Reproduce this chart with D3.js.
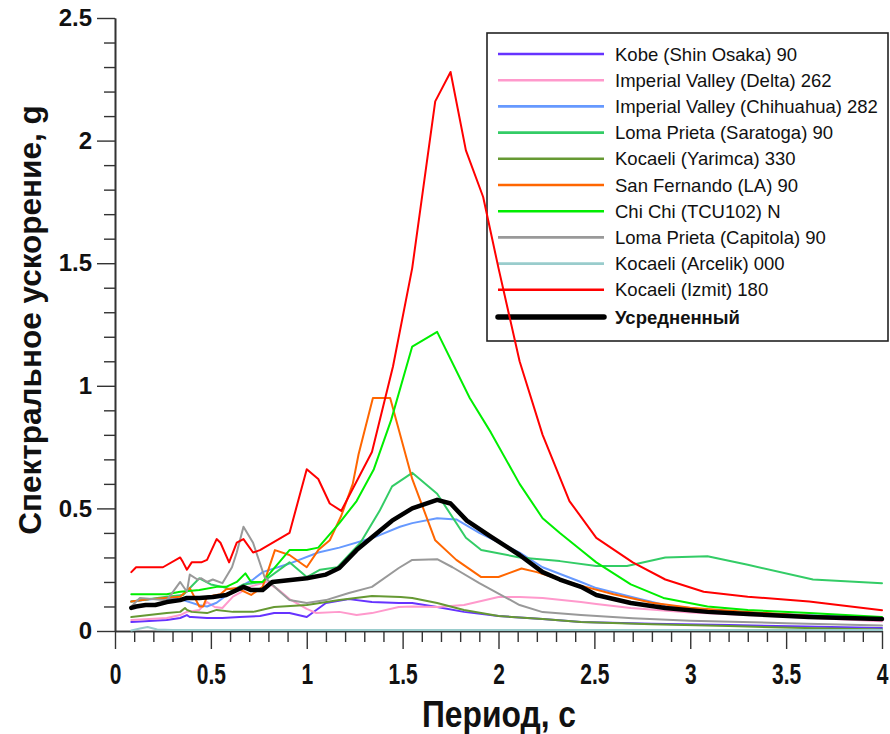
<!DOCTYPE html>
<html>
<head>
<meta charset="utf-8">
<script src="https://cdnjs.cloudflare.com/ajax/libs/d3/7.8.5/d3.min.js"></script>
<style>
  html, body { margin: 0; padding: 0; background: #fff; }
  svg { display: block; }
  text { font-family: "Liberation Sans", Arial, sans-serif; fill: #111; }
</style>
</head>
<body>
<svg id="chart" width="890" height="734"></svg>
<script>
// Response spectra: spectral acceleration (g) versus period (s)

const kobeT  = [0.085,0.27,0.34,0.375,0.39,0.40,0.48,0.56,0.65,0.756,0.83,0.91,1.0,1.10,1.22,1.34,1.48,1.55,1.68,1.82,2.0,2.23,2.43,2.8,3.2,3.6,4.0];
const kobeV  = [0.037,0.045,0.053,0.065,0.057,0.057,0.053,0.053,0.057,0.061,0.073,0.073,0.057,0.114,0.13,0.118,0.114,0.114,0.098,0.078,0.061,0.049,0.037,0.03,0.024,0.018,0.012];

const deltaT = [0.085,0.27,0.34,0.375,0.44,0.48,0.52,0.56,0.615,0.65,0.70,0.79,0.85,0.91,1.0,1.05,1.17,1.26,1.34,1.48,1.55,1.68,1.82,2.0,2.11,2.23,2.43,2.51,2.69,3.0,3.5,4.0];
const deltaV = [0.045,0.053,0.065,0.078,0.086,0.118,0.098,0.094,0.14,0.155,0.18,0.20,0.17,0.13,0.09,0.073,0.078,0.065,0.073,0.098,0.10,0.098,0.106,0.139,0.139,0.135,0.118,0.11,0.094,0.075,0.058,0.04];

const chihT  = [0.085,0.2,0.34,0.44,0.48,0.53,0.58,0.65,0.72,0.77,0.91,1.06,1.17,1.345,1.486,1.55,1.68,1.78,1.90,2.11,2.23,2.43,2.51,2.69,2.87,3.09,3.3,3.6,4.0];
const chihV  = [0.12,0.13,0.13,0.105,0.10,0.115,0.145,0.18,0.21,0.24,0.275,0.32,0.34,0.38,0.425,0.44,0.46,0.455,0.40,0.32,0.26,0.20,0.175,0.14,0.105,0.086,0.075,0.065,0.052];

const saratT = [0.085,0.27,0.355,0.44,0.50,0.56,0.615,0.67,0.77,0.91,1.0,1.07,1.16,1.28,1.38,1.445,1.55,1.68,1.83,1.91,2.11,2.32,2.51,2.67,2.87,3.09,3.30,3.64,4.0];
const saratV = [0.12,0.14,0.147,0.215,0.19,0.18,0.167,0.19,0.20,0.28,0.22,0.25,0.26,0.36,0.49,0.59,0.645,0.56,0.38,0.33,0.30,0.285,0.265,0.265,0.30,0.305,0.27,0.21,0.195];

const yarimT = [0.085,0.27,0.34,0.365,0.375,0.40,0.48,0.53,0.615,0.72,0.83,1.0,1.17,1.34,1.49,1.55,1.68,1.82,2.0,2.23,2.43,2.8,3.2,3.6,4.0];
const yarimV = [0.057,0.073,0.078,0.094,0.086,0.078,0.073,0.086,0.078,0.078,0.098,0.106,0.126,0.143,0.139,0.135,0.114,0.086,0.061,0.049,0.037,0.028,0.02,0.012,0.006];

const sfT    = [0.085,0.18,0.34,0.39,0.44,0.46,0.48,0.55,0.58,0.635,0.71,0.77,0.834,0.91,1.0,1.06,1.12,1.18,1.24,1.27,1.345,1.435,1.55,1.67,1.78,1.91,2.0,2.12,2.2,2.32,2.43,2.6,2.8,3.0,3.3,3.6,4.0];
const sfV    = [0.12,0.13,0.14,0.175,0.10,0.10,0.14,0.15,0.17,0.175,0.147,0.18,0.33,0.31,0.26,0.33,0.37,0.47,0.60,0.72,0.95,0.95,0.62,0.37,0.29,0.22,0.22,0.255,0.24,0.21,0.185,0.15,0.115,0.095,0.078,0.063,0.045];

const chichiT = [0.085,0.27,0.34,0.44,0.53,0.58,0.635,0.68,0.71,0.77,0.91,1.0,1.06,1.17,1.26,1.35,1.44,1.55,1.68,1.85,1.96,2.11,2.23,2.32,2.43,2.51,2.69,2.86,3.09,3.30,3.62,4.0];
const chichiV = [0.15,0.15,0.16,0.167,0.18,0.18,0.20,0.235,0.20,0.20,0.33,0.33,0.34,0.44,0.53,0.66,0.86,1.16,1.22,0.95,0.81,0.60,0.46,0.40,0.33,0.28,0.19,0.135,0.10,0.086,0.073,0.057];

const capitT = [0.085,0.13,0.27,0.34,0.375,0.39,0.43,0.45,0.48,0.51,0.56,0.61,0.635,0.67,0.72,0.78,0.85,0.91,1.0,1.10,1.22,1.34,1.48,1.55,1.68,1.76,1.90,2.11,2.23,2.43,2.7,3.0,3.5,4.0];
const capitV = [0.10,0.135,0.125,0.20,0.16,0.23,0.21,0.215,0.20,0.21,0.195,0.26,0.32,0.425,0.36,0.22,0.167,0.126,0.114,0.126,0.155,0.18,0.257,0.29,0.293,0.26,0.195,0.106,0.077,0.065,0.052,0.042,0.032,0.022];

const arcelT = [0.085,0.13,0.17,0.22,0.3,1.0,2.0,3.0,4.0];
const arcelV = [0.002,0.01,0.016,0.006,0.004,0.004,0.004,0.004,0.004];

const izmitT = [0.085,0.11,0.25,0.34,0.355,0.375,0.40,0.45,0.48,0.53,0.55,0.595,0.635,0.67,0.72,0.756,0.91,1.0,1.06,1.12,1.18,1.34,1.45,1.55,1.67,1.75,1.83,1.92,2.0,2.11,2.23,2.37,2.51,2.70,2.87,3.07,3.30,3.62,4.0];
const izmitV = [0.24,0.26,0.26,0.30,0.28,0.25,0.28,0.28,0.29,0.375,0.36,0.28,0.36,0.375,0.32,0.33,0.40,0.66,0.62,0.52,0.49,0.73,1.08,1.48,2.16,2.28,1.96,1.77,1.48,1.10,0.80,0.53,0.38,0.28,0.21,0.16,0.14,0.12,0.085];

const avgT   = [0.085,0.11,0.16,0.21,0.27,0.34,0.375,0.44,0.51,0.58,0.635,0.67,0.71,0.77,0.82,1.0,1.1,1.17,1.26,1.345,1.445,1.55,1.68,1.75,1.835,1.96,2.11,2.23,2.32,2.43,2.51,2.69,2.87,3.09,3.30,3.62,4.0];
const avgV   = [0.094,0.10,0.106,0.106,0.118,0.126,0.135,0.135,0.139,0.147,0.167,0.18,0.167,0.167,0.20,0.215,0.23,0.257,0.33,0.385,0.45,0.50,0.535,0.52,0.45,0.385,0.31,0.24,0.21,0.18,0.147,0.114,0.094,0.078,0.069,0.057,0.049];

const seriesNames  = ["Kobe (Shin Osaka) 90","Imperial Valley (Delta) 262","Imperial Valley (Chihuahua) 282","Loma Prieta (Saratoga) 90","Kocaeli (Yarimca) 330","San Fernando (LA) 90","Chi Chi (TCU102) N","Loma Prieta (Capitola) 90","Kocaeli (Arcelik) 000","Kocaeli (Izmit) 180","Усредненный"];
const seriesColors = ["#6633ff","#ff99cc","#6699ff","#33cc66","#669933","#ff6600","#00ee00","#999999","#99cccc","#ff0000","#000000"];
const seriesT = [kobeT, deltaT, chihT, saratT, yarimT, sfT, chichiT, capitT, arcelT, izmitT, avgT];
const seriesV = [kobeV, deltaV, chihV, saratV, yarimV, sfV, chichiV, capitV, arcelV, izmitV, avgV];

const xMajor = [0,0.5,1,1.5,2,2.5,3,3.5,4];
const xLabels = ["0","0.5","1","1.5","2","2.5","3","3.5","4"];
const yMajor = [0,0.5,1,1.5,2,2.5];
const yLabels = ["0","0.5","1","1.5","2","2.5"];
const xTitle = "Период, с";
const yTitle = "Спектральное ускорение, g";

const svg = d3.select("#chart");
const x = d3.scaleLinear().domain([0, 4]).range([115, 882]);
const y = d3.scaleLinear().domain([0, 2.5]).range([631, 18]);

const xMinor = d3.range(0, 41).map(i => i / 10).filter(v => Math.abs(v * 2 - Math.round(v * 2)) > 1e-6);
const yMinor = d3.range(0, 26).map(i => i / 10).filter(v => Math.abs(v * 2 - Math.round(v * 2)) > 1e-6);

// legend frame and entries (curves are drawn over it)
const lg = svg.append("g");
lg.append("rect").attr("x", 487).attr("y", 33).attr("width", 401).attr("height", 308)
  .attr("fill", "#fff").attr("stroke", "#222").attr("stroke-width", 1.6);
seriesNames.forEach((name, i) => {
  const isAvg = i === seriesNames.length - 1;
  const cy = 54 + i * 26.2 + (isAvg ? 1 : 0);
  lg.append("line").attr("x1", 498).attr("x2", 604).attr("y1", cy).attr("y2", cy)
    .attr("stroke", seriesColors[i]).attr("stroke-width", isAvg ? 5.5 : 2.6)
    .attr("stroke-linecap", isAvg ? "round" : "butt");
  lg.append("text").attr("x", 615).attr("y", cy).attr("dy", "0.36em")
    .attr("font-size", 18.5).attr("font-weight", isAvg ? "bold" : "normal").text(name);
});

// axes
const axisColor = "#333";
const gx = svg.append("g").attr("transform", "translate(0,631)");
gx.append("g").call(d3.axisBottom(x).tickValues(xMinor).tickSize(11).tickSizeOuter(0).tickFormat(""));
gx.append("g").call(d3.axisBottom(x).tickValues(xMajor).tickSize(18).tickSizeOuter(0).tickPadding(14)
  .tickFormat((d, i) => xLabels[i]));
gx.selectAll("path.domain").attr("stroke", axisColor).attr("stroke-width", 1.6);
gx.selectAll(".tick line").attr("stroke", axisColor).attr("stroke-width", 1.4);
gx.selectAll(".tick text").attr("font-size", 30).attr("font-weight", "bold")
  .attr("font-family", "'Liberation Sans', Arial, sans-serif").attr("fill", "#111")
  .attr("transform", "scale(0.7,1)");

const gy = svg.append("g").attr("transform", "translate(115,0)");
gy.append("g").call(d3.axisLeft(y).tickValues(yMinor).tickSize(11).tickSizeOuter(0).tickFormat(""));
gy.append("g").call(d3.axisLeft(y).tickValues(yMajor).tickSize(18).tickSizeOuter(0).tickPadding(5)
  .tickFormat((d, i) => yLabels[i]));
gy.selectAll("path.domain").attr("stroke", axisColor).attr("stroke-width", 1.6);
gy.selectAll(".tick line").attr("stroke", axisColor).attr("stroke-width", 1.4);
gy.selectAll(".tick text").attr("font-size", 24).attr("font-weight", "bold")
  .attr("font-family", "'Liberation Sans', Arial, sans-serif").attr("fill", "#111");

// axis titles
svg.append("text").attr("transform", "translate(499,727) scale(0.86,1)")
  .attr("text-anchor", "middle").attr("font-size", 37).attr("font-weight", "bold").text(xTitle);
svg.append("text").attr("transform", "translate(41,320) rotate(-90)")
  .attr("text-anchor", "middle").attr("font-size", 31.5).attr("font-weight", "bold").text(yTitle);

// spectra
const line = d3.line().x(d => x(d[0])).y(d => y(d[1]));
const plot = svg.append("g");
seriesNames.forEach((name, i) => {
  const pts = seriesT[i].map((t, j) => [t, seriesV[i][j]]);
  const isAvg = i === seriesNames.length - 1;
  plot.append("path").datum(pts)
    .attr("fill", "none")
    .attr("stroke", seriesColors[i])
    .attr("stroke-width", isAvg ? 4.5 : 2)
    .attr("stroke-linejoin", "round")
    .attr("stroke-linecap", "round")
    .attr("d", line);
});
</script>
</body>
</html>
